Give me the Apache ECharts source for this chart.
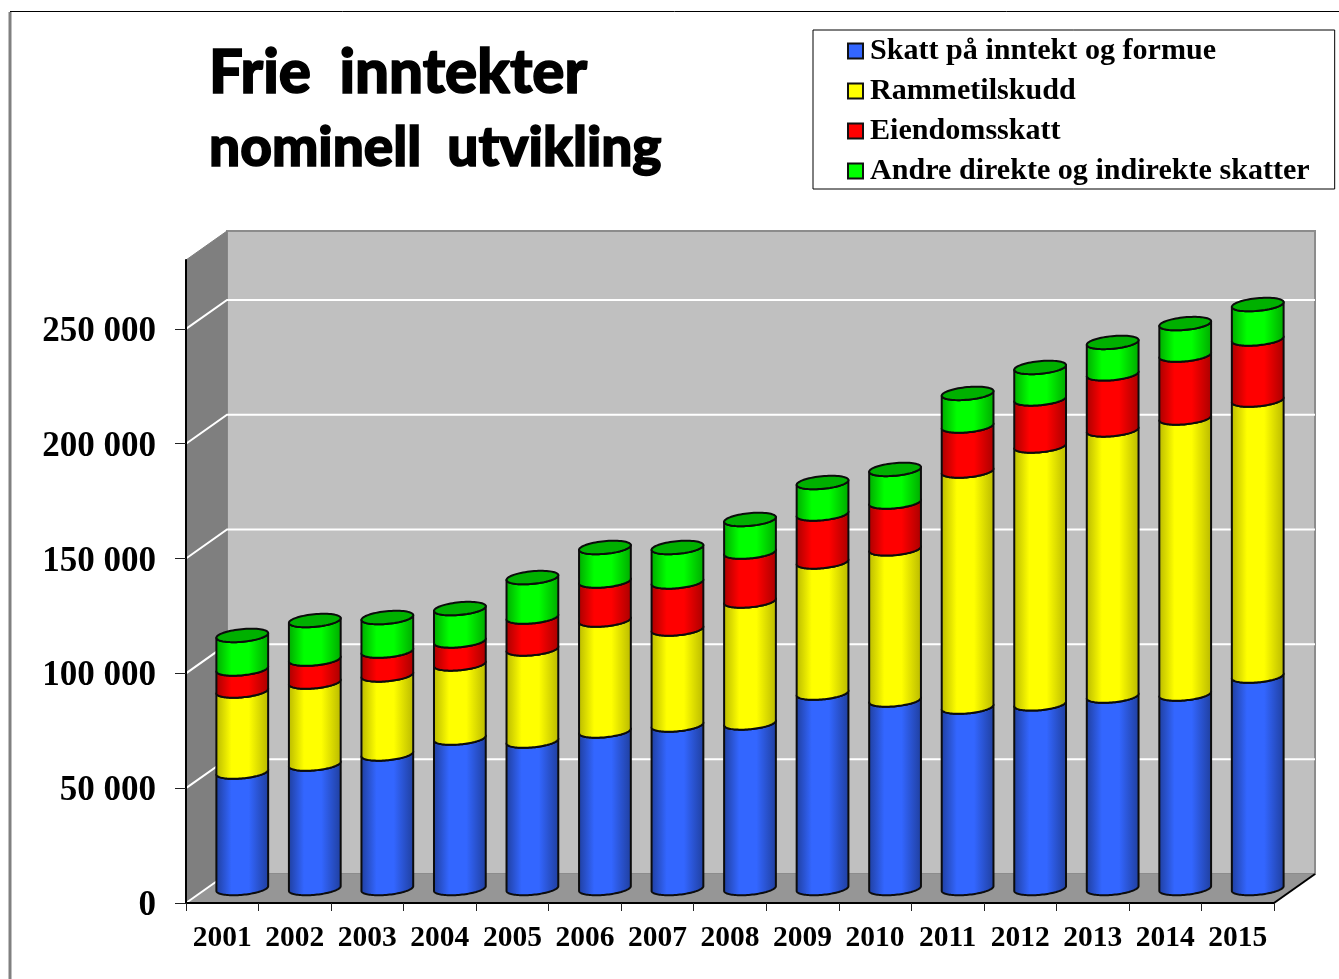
<!DOCTYPE html>
<html><head><meta charset="utf-8">
<style>html,body{margin:0;padding:0;background:#fff}#c{width:1339px;height:979px}</style>
<script src="https://cdn.jsdelivr.net/npm/echarts@6/dist/echarts.min.js"></script>
</head><body><div id="c"></div>
<script>
const years = ['2001','2002','2003','2004','2005','2006','2007','2008','2009','2010','2011','2012','2013','2014','2015'];
const skatt = [50700,54200,58600,65500,64200,68600,71200,72100,85100,82100,79000,80400,83800,84700,92500];
const ramme = [35300,35700,34400,32300,40100,48300,41800,53100,57100,65800,102800,112300,115900,120200,120200];
const eiendom = [9600,10000,10400,10000,13900,17000,20500,21300,20900,20400,19600,20500,24400,27400,26600];
const andre = [14600,16800,14600,14100,17200,14600,15000,14200,13700,14200,14200,13700,13700,13700,15000];
const yTicks = [0,50000,100000,150000,200000,250000];
const seriesNames = ['Skatt på inntekt og formue','Rammetilskudd','Eiendomsskatt','Andre direkte og indirekte skatter'];
const seriesValues = [skatt,ramme,eiendom,andre];
const faceColors = [['#1f3e9c','#3366ff'],['#b8b800','#ffff00'],['#a80000','#ff0000'],['#00a800','#00ff00']];
const capColor = '#00b000';
const legendColors = ['#3366ff','#ffff00','#ff0000','#00ff00'];

const DX = 41, DY = -29;         // depth of the floor
const CX = 20, CY = -14.5;       // cylinder sits halfway back
const RX = 26, RY = 6.3, TILT = -5.5 * Math.PI / 180;

function ell(cx, cy, t) {
  const a = RX * Math.cos(t), b = RY * Math.sin(t);
  return [cx + a * Math.cos(TILT) - b * Math.sin(TILT), cy + a * Math.sin(TILT) + b * Math.cos(TILT)];
}
function arc(cx, cy, from, to, n) {
  const out = [];
  for (let i = 0; i <= n; i++) out.push(ell(cx, cy, from + (to - from) * i / n));
  return out;
}
function cylItem(si) {
  return function (params, api) {
    const i = api.value(0), lo = api.value(1), hi = api.value(2);
    const p0 = api.coord([i, lo]), p1 = api.coord([i, hi]);
    const cx = p0[0] + CX, y0 = p0[1] + CY, y1 = p1[1] + CY;
    const pts = arc(cx, y0, Math.PI, 0, 48).concat(arc(cx, y1, 0, Math.PI, 48));
    const c = faceColors[si];
    const children = [{
      type: 'polygon', shape: { points: pts },
      style: {
        fill: new echarts.graphic.LinearGradient(0, 0, 1, 0, [
          { offset: 0, color: c[0] }, { offset: 0.3, color: c[1] }, { offset: 0.62, color: c[1] }, { offset: 1, color: c[0] }
        ]),
        stroke: '#0c0c0c', lineWidth: 2, lineJoin: 'round'
      }
    }];
    if (si === seriesValues.length - 1) {
      children.push({
        type: 'polygon', shape: { points: arc(cx, y1, 0, 2 * Math.PI, 72) },
        style: { fill: capColor, stroke: '#0c0c0c', lineWidth: 2 }
      });
    }
    return { type: 'group', children };
  };
}
function stacked(si) {
  return years.map((y, i) => {
    let lo = 0;
    for (let k = 0; k < si; k++) lo += seriesValues[k][i];
    return [i, lo, lo + seriesValues[si][i]];
  });
}
const yMax = 280000;

const wallSeries = {
  type: 'custom', name: 'walls', coordinateSystem: 'cartesian2d', silent: true, z: 1, clip: false,
  data: [[0]],
  renderItem: function (params, api) {
    const a = api.coord([0, 0]), b = api.coord([0, yMax]);
    const xl = params.coordSys.x, xr = params.coordSys.x + params.coordSys.width;
    const y0 = a[1], yt = b[1];
    const kids = [
      { type: 'polygon', shape: { points: [[xl + DX, yt + DY], [xr + DX, yt + DY], [xr + DX, y0 + DY], [xl + DX, y0 + DY]] },
        style: { fill: '#c0c0c0', stroke: '#8c8c8c', lineWidth: 2 } },
      { type: 'polygon', shape: { points: [[xl, y0], [xl + DX, y0 + DY], [xl + DX, yt + DY], [xl, yt]] },
        style: { fill: '#7f7f7f', stroke: '#7f7f7f', lineWidth: 1 } },
      { type: 'polygon', shape: { points: [[xl, y0], [xl + DX, y0 + DY], [xr + DX, y0 + DY], [xr, y0]] },
        style: { fill: '#969696' } },
      { type: 'line', shape: { x1: xr, y1: y0, x2: xr + DX, y2: y0 + DY }, style: { stroke: '#000', lineWidth: 2 } }
    ];
    yTicks.forEach(v => {
      const y = api.coord([0, v])[1];
      kids.push({ type: 'polyline', shape: { points: v === 0 ? [[xl, y], [xl + DX, y + DY]] : [[xl, y], [xl + DX, y + DY], [xr + DX, y + DY]] },
        style: { fill: 'none', stroke: '#ffffff', lineWidth: 2 } });
    });
    return { type: 'group', children: kids };
  }
};

const chart = echarts.init(document.getElementById('c'), null, { renderer: 'canvas' });
const titleFont = { fontFamily: 'Lato', fontWeight: 900, color: '#000', textBorderColor: '#000', textBorderWidth: 1.5 };
chart.setOption({
  animation: false,
  backgroundColor: '#ffffff',
  title: {
    text: '{a|Frie  inntekter}\n{b|nominell  utvikling}', left: 204, top: 32,
    textStyle: {
      rich: {
        a: Object.assign({ fontSize: 60, lineHeight: 74 }, titleFont),
        b: Object.assign({ fontSize: 55, lineHeight: 74 }, titleFont)
      }
    }
  },
  legend: {
    left: 813, top: 30, orient: 'vertical', align: 'left',
    padding: [6, 25, 3, 34], itemGap: 10, itemWidth: 15, itemHeight: 15,
    backgroundColor: '#fff', borderColor: '#000', borderWidth: 1,
    selectedMode: false,
    textStyle: { fontFamily: 'Liberation Serif', fontWeight: 'bold', fontSize: 30.1, color: '#000', padding: [0, 0, 0, 2] },
    data: seriesNames.map((n, i) => ({ name: n, icon: 'rect', itemStyle: { color: legendColors[i], borderColor: '#111', borderWidth: 2 } }))
  },
  grid: { left: 186, top: 260, width: 1088, height: 643, containLabel: false },
  xAxis: {
    type: 'category', data: years, boundaryGap: true, z: 2,
    axisLine: { lineStyle: { color: '#000', width: 2 } },
    axisTick: { show: true, length: 8, lineStyle: { color: '#222', width: 1 } },
    axisLabel: { fontFamily: 'Liberation Serif', fontWeight: 'bold', fontSize: 29.5, color: '#000', margin: 20, interval: 0 },
    splitLine: { show: false }
  },
  yAxis: {
    type: 'value', min: 0, max: yMax, z: 2,
    axisLine: { show: true, lineStyle: { color: '#000', width: 2 } },
    axisTick: { show: true, length: 11, customValues: yTicks, lineStyle: { color: '#222', width: 1 } },
    axisLabel: {
      margin: 30,
      customValues: yTicks,
      formatter: v => '{v|' + String(v).replace(/\B(?=(\d{3})+$)/g, ' ') + '}',
      rich: { v: { fontFamily: 'Liberation Serif', fontWeight: 'bold', fontSize: 35, color: '#000', padding: [6, 0, 0, 0] } }
    },
    splitLine: { show: false }
  },
  tooltip: { show: false },
  series: [wallSeries].concat(seriesNames.map((n, si) => ({
    type: 'custom', name: n, coordinateSystem: 'cartesian2d', z: 3 + si, clip: false, silent: true,
    itemStyle: { color: legendColors[si] },
    encode: { x: 0, y: [1, 2] },
    data: stacked(si),
    renderItem: cylItem(si)
  }))),
  graphic: [
    { type: 'line', silent: true, shape: { x1: 10, y1: 11.5, x2: 1339, y2: 11.5 }, style: { stroke: '#000', lineWidth: 1 } },
    { type: 'line', silent: true, shape: { x1: 10, y1: 12, x2: 10, y2: 979 }, style: { stroke: '#808080', lineWidth: 3 } }
  ]
});
</script></body></html>
